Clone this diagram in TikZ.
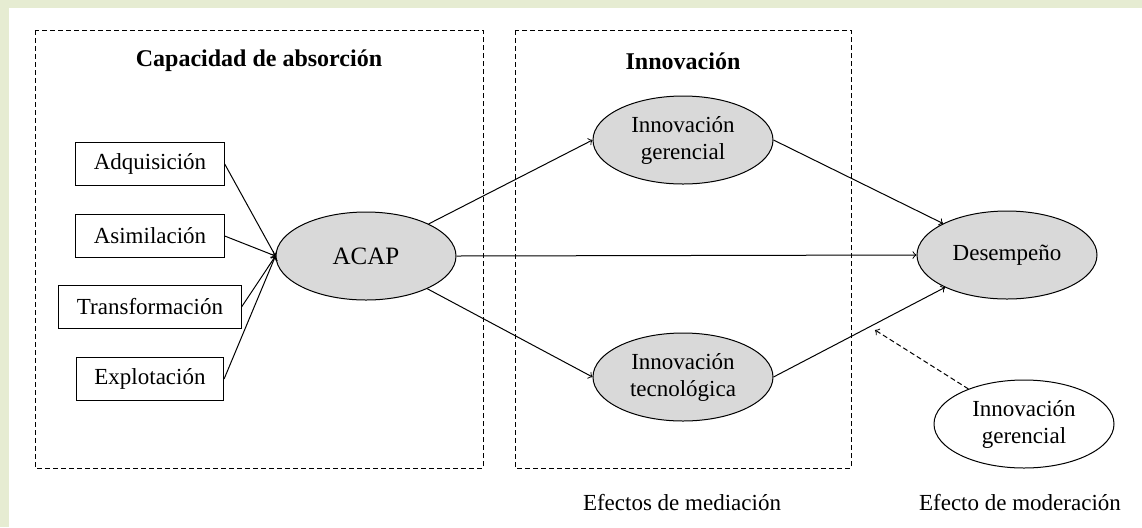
\documentclass[tikz,border=0pt]{standalone}
\usepackage{fontspec}
\setmainfont{Liberation Serif}
\usetikzlibrary{shapes.geometric}
\definecolor{slidegreen}{HTML}{E6ECD2}
\definecolor{latentgray}{HTML}{D9D9D9}
\tikzset{
  dimbox/.style={draw, line width=.5pt, minimum width=72.5pt, minimum height=21.5pt, inner xsep=9pt, inner ysep=2pt},
  latent/.style={ellipse, draw, line width=.5pt, fill=latentgray, minimum width=90pt, minimum height=44pt,
    inner sep=1pt, align=center, font=\fontsize{11.5}{13.5}\selectfont},
  frame/.style={draw, line width=.5pt, dash pattern=on 2.5pt off 1.5pt},
  link/.style={->, line width=.5pt}
}
\begin{document}
\begin{tikzpicture}[x=.5pt, y=-.5pt, font=\fontsize{11.5}{13.5}\selectfont]
  \useasboundingbox (0,0) rectangle (1142,527);
  \fill[slidegreen] (0,0) rectangle (1142,527);
  \fill[white] (9,8) rectangle (1142,527);

  % dashed groups
  \draw[frame] (35,30) rectangle (483,468);
  \draw[frame] (515,30) rectangle (851,468);
  \node[font=\fontsize{12}{14}\selectfont\bfseries] (tabs) at (259,61) {Capacidad de absorción};
  \node[font=\fontsize{12}{14}\selectfont\bfseries] (tinn) at (683,61) {Innovación};

  % dimensions
  \node[dimbox] (adq) at (150,164) {Adquisición};
  \node[dimbox] (asi) at (150,236) {Asimilación};
  \node[dimbox] (tra) at (150,307) {Transformación};
  \node[dimbox] (exp) at (150,379) {Explotación};

  % constructs
  \node[latent, font=\fontsize{12.5}{14}\selectfont] (acap) at (366,256) {ACAP};
  \node[latent] (ger) at (683,140) {Innovación\\gerencial};
  \node[latent] (tec) at (683,377) {Innovación\\tecnológica};
  \node[latent] (des) at (1007,255) {Desempeño};
  \node[latent, fill=white] (mod) at (1024,424) {Innovación\\gerencial};
  \coordinate (modtip) at (875,330);

  \foreach \d in {adq,asi,tra,exp}
    \draw[link] (\d.east) -- (acap.west);
  \draw[link] (acap) -- (ger.west);
  \draw[link] (acap) -- (tec.west);
  \draw[link] (acap.east) -- (des.west);
  \draw[link] (ger.east) -- (des);
  \draw[link] (tec.east) -- (des);
  \draw[link, dash pattern=on 2.5pt off 1.5pt] (mod) -- (modtip);

  \node (lmed) at (682,503) {Efectos de mediación};
  \node (lmod) at (1020,503) {Efecto de moderación};
\end{tikzpicture}
\end{document}
